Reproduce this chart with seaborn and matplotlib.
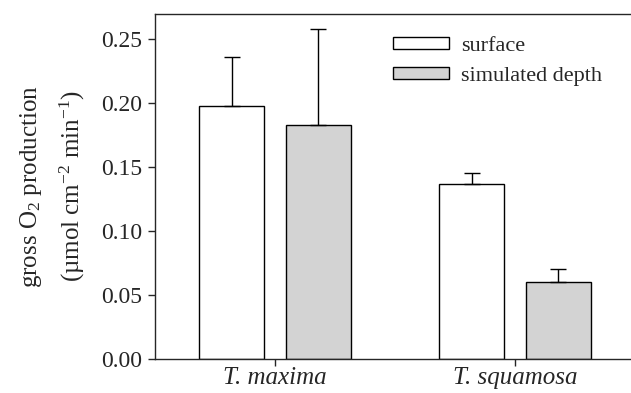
import numpy as np
import pandas as pd
import seaborn as sns
import matplotlib.pyplot as plt
from matplotlib.patches import Patch
from matplotlib.ticker import FormatStrFormatter

species = ["T. maxima", "T. squamosa"]
treatments = ["surface", "simulated depth"]
means = {"surface": [0.198, 0.1365], "simulated depth": [0.183, 0.060]}
errs = {"surface": [0.038, 0.009], "simulated depth": [0.075, 0.0105]}
colors = {"surface": "white", "simulated depth": "#d3d3d3"}

df = pd.DataFrame({
    "species": species * 2,
    "treatment": [treatments[0]] * 2 + [treatments[1]] * 2,
    "value": means["surface"] + means["simulated depth"],
})

sns.set_style("ticks")
plt.rcParams["font.family"] = ["Liberation Serif", "DejaVu Serif"]
plt.rcParams["mathtext.fontset"] = "custom"
plt.rcParams["mathtext.rm"] = "Liberation Serif"
plt.rcParams["mathtext.it"] = "Liberation Serif:italic"

fig = plt.figure(figsize=(6.31, 3.93), dpi=100)
ax = fig.add_axes([155 / 631, 1 - 359 / 393, (635 - 155) / 631, (359 - 13.5) / 393])

sns.barplot(data=df, x="species", y="value", hue="treatment", order=species,
            hue_order=treatments, palette=colors, width=0.72, gap=0.25,
            edgecolor="black", linewidth=1.0, errorbar=None, legend=False, ax=ax)

# error bars (upper only) at the bar centres drawn by seaborn
for cont, t in zip(ax.containers, treatments):
    xs = [p.get_x() + p.get_width() / 2 for p in cont.patches]
    ax.errorbar(xs, means[t], yerr=[np.zeros(2), errs[t]], fmt="none",
                ecolor="black", elinewidth=1.0, capsize=5.5, capthick=1.0)

fs = 17
ax.set_xlim(-0.5, 1.5)
ax.set_ylim(0, 0.27)
ax.set_yticks([0, 0.05, 0.10, 0.15, 0.20, 0.25])
ax.yaxis.set_major_formatter(FormatStrFormatter("%.2f"))
ax.set_xlabel("")
ax.set_xticks([0, 1])
ax.set_xticklabels(species, fontstyle="italic", fontsize=fs + 1)
ax.tick_params(axis="y", labelsize=fs, direction="out", length=5, width=1, pad=4)
ax.tick_params(axis="x", direction="out", length=5, width=1, pad=1)
ax.set_ylabel("gross O$_2$ production\n(\u00b5mol cm$^{-2}$ min$^{-1}$)",
              fontsize=fs + 1, labelpad=10, linespacing=1.65)
for s in ["left", "bottom", "top"]:
    ax.spines[s].set_linewidth(1.0)
ax.spines["right"].set_visible(False)

handles = [Patch(facecolor=colors[t], edgecolor="black", linewidth=1.0, label=t)
           for t in treatments]
ax.legend(handles=handles, loc="upper left", bbox_to_anchor=(0.455, 0.99),
          frameon=False, fontsize=fs - 1, handlelength=2.5, handleheight=0.45,
          labelspacing=0.5, handletextpad=0.55)

fig.savefig("out.png", dpi=100)
